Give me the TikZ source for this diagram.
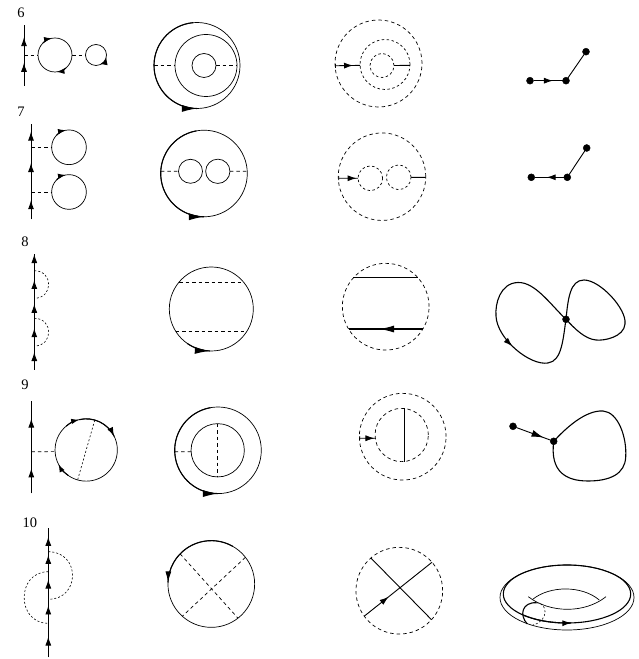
\documentclass[tikz,border=0pt]{standalone}
\usepackage{fontspec}
\setmainfont{Liberation Serif}
\usetikzlibrary{arrows.meta, decorations.markings}
\tikzset{
  ring/.style={circle, draw=black, line width=0.7pt, inner sep=0pt, outer sep=0pt, minimum size=#1},
  dashring/.style={ring=#1, dash pattern=on 3.5pt off 3pt},
  fineRing/.style={ring=#1, dash pattern=on 2.5pt off 2.5pt},
  dot/.style={circle, draw=black, fill=black, inner sep=0pt, outer sep=0pt, minimum size=7pt},
  lbl/.style={font=\fontsize{14.5}{16}\selectfont, inner sep=0pt},
  strand/.style={draw=black, line width=0.9pt},
  chord/.style={draw=black, line width=0.7pt, dash pattern=on 3.5pt off 3pt},
  fineDash/.style={draw=black, line width=0.6pt, dash pattern=on 2pt off 2pt},
  barline/.style={draw=black, line width=0.9pt},
  heavy/.style={draw=black, line width=1.1pt},
  tipat/.style={postaction={decorate, decoration={markings,
      mark=at position #1 with {\arrow{Latex[length=9pt,width=6pt]}}}}},
  tipsat/.style={tipat/.list={#1}},
  smallhead/.style={-{Latex[length=8pt,width=5.5pt]}},
  midhead/.style={postaction={decorate, decoration={markings,
      mark=at position .999 with {\arrow{Latex[length=11pt,width=6pt]}}}}},
  bighead/.style={postaction={decorate, decoration={markings,
      mark=at position #1 with {\arrow{Latex[length=15pt,width=7pt]}}}}},
  bighead/.default=.999,
  ticked/.style={{Bar[width=4pt,length=0.7pt]}-},
}
\begin{document}
\begin{tikzpicture}[x=1pt,y=1pt]
  \useasboundingbox (0,0) rectangle (639,659);
  \foreach \n/\x/\y in {6/21/646,7/21/547,8/25/417.3,9/25/274,10/30/136.3}{
    \node[lbl] (l\n) at (\x,\y) {\n};
  }
  % row 6
  \coordinate (t6) at (24,634);
  \coordinate (b6) at (24,573);
  \coordinate (j6) at (24,604);
  \draw[strand,tipsat={.38,.80}] (b6)--(t6);
  \node[ring=34pt] (a6) at (55,604) {};
  \node[ring=21pt] (s6) at (96,604) {};
  \draw[chord] (j6)--(a6.west);
  \draw[chord] (a6.east)--(s6.west);
  \draw[heavy,smallhead] (a6.135) arc[start angle=135,delta angle=-35,radius=17];
  \draw[heavy,smallhead] (a6.-50) arc[start angle=-50,delta angle=-35,radius=17];
  \draw[heavy,smallhead] (s6.-60) arc[start angle=-60,delta angle=50,radius=10.5];
  \node[ring=86pt] (o6) at (197,593.5) {};
  \node[ring=62pt] (m6) at (206,593.5) {};
  \node[ring=24pt] (i6) at (204,593.5) {};
  \draw[chord] (o6.west)--(m6.west);
  \draw[chord] (i6.east)--(m6.east);
  \draw[heavy,bighead] (o6.95) arc[start angle=95,delta angle=175,radius=43];
  \node[dashring=87pt] (p6) at (378.5,595.5) {};
  \node[fineRing=50pt] (q6) at (385,594.5) {};
  \node[fineRing=24pt] (r6) at (382,593.5) {};
  \draw[barline,ticked,tipat=.72] (p6.183)--(q6.182);
  \draw[barline] (r6.east)--(q6.358);
  \node[dot] (u6) at (530,578.3) {};
  \node[dot] (v6) at (566,578.3) {};
  \node[dot] (w6) at (586,607.3) {};
  \draw[barline,tipat=.67] (u6)--(v6);
  \draw[barline] (v6)--(w6);
  % row 7
  \coordinate (t7) at (31,535);
  \coordinate (b7) at (31,439.7);
  \coordinate (j7) at (31,511.7);
  \coordinate (k7) at (31,467);
  \draw[strand,tipsat={.20,.59,.92}] (b7)--(t7);
  \node[ring=34.7pt] (a7) at (69,511.7) {};
  \node[ring=34.7pt] (c7) at (69,467) {};
  \draw[chord] (j7)--(a7.west);
  \draw[chord] (k7)--(c7.west);
  \draw[heavy,smallhead] (a7.135) arc[start angle=135,delta angle=-35,radius=17.35];
  \draw[heavy,smallhead] (c7.135) arc[start angle=135,delta angle=-35,radius=17.35];
  \node[ring=86.6pt] (o7) at (204,485.5) {};
  \node[ring=24pt] (i7) at (190.5,487.7) {};
  \node[ring=24.3pt] (e7) at (217.8,487.7) {};
  \draw[chord] (o7.177)--(i7.west);
  \draw[chord] (e7.east)--(o7.3);
  \draw[heavy,bighead] (o7.100) arc[start angle=100,delta angle=170,radius=43.3];
  \node[dashring=87.5pt] (p7) at (382,482.3) {};
  \node[fineRing=24.7pt] (q7) at (370.3,480.7) {};
  \node[fineRing=24.7pt] (r7) at (398.7,481.7) {};
  \draw[barline,ticked,tipat=.93] (p7.182)--(q7.west);
  \draw[barline] (r7.east)--(p7.359);
  \node[dot] (u7) at (531.3,481.7) {};
  \node[dot] (v7) at (567.3,481.7) {};
  \node[dot] (w7) at (586.7,511) {};
  \draw[barline,tipat=.59] (v7)--(u7);
  \draw[barline] (v7)--(w7);
  % row 8
  \coordinate (t8) at (34.3,405);
  \coordinate (b8) at (34.3,289);
  \coordinate (j8) at (34.3,388.3);
  \coordinate (k8) at (34.3,360.7);
  \coordinate (f8) at (34.3,340.7);
  \coordinate (g8) at (34.3,313);
  \draw[strand,tipsat={.155,.36,.57,.776,.999}] (b8)--(t8);
  \draw[fineDash] (j8) to[out=0,in=0,looseness=1.78] (k8);
  \draw[fineDash] (f8) to[out=0,in=0,looseness=1.78] (g8);
  \node[ring=84pt] (o8) at (211.3,350) {};
  \draw[chord] (o8.140)--(o8.40);
  \draw[chord] (o8.212)--(o8.328);
  \draw[heavy,bighead] (o8.235) arc[start angle=235,delta angle=33,radius=42];
  \node[dashring=86.7pt] (p8) at (385.7,352.3) {};
  \draw[barline] (p8.138)--(p8.42);
  \draw[draw=black,line width=1.4pt,bighead=.59] (p8.329)--(p8.211);
  \node[dot] (v8) at (566,339.7) {};
  \draw[heavy,tipat=.34] (v8.center) .. controls (550,355) and (535,377) .. (518,376.5)
    .. controls (500,376) and (495,355) .. (496,343)
    .. controls (497,320) and (530,293) .. (548,296)
    .. controls (562,298) and (563,320) .. (v8.center)
    .. controls (568,360) and (570,379) .. (584,379)
    .. controls (600,379) and (627,350) .. (625,335)
    .. controls (624,322) and (604,318) .. (596,319)
    .. controls (585,320) and (575,330) .. (v8.center);
  % row 9
  \coordinate (t9) at (31.3,258);
  \coordinate (b9) at (31.3,165.7);
  \coordinate (j9) at (31.3,207.3);
  \draw[strand,tipsat={.27,.81}] (b9)--(t9);
  \node[ring=62.3pt] (a9) at (86.2,209) {};
  \draw[chord] (j9)--(a9.183);
  \draw[fineDash] (a9.74)--(a9.254);
  \draw[heavy,smallhead] (a9.130) arc[start angle=130,delta angle=-27,radius=31.15];
  \draw[heavy,tipat=.999] (a9.103) arc[start angle=103,delta angle=-77,radius=31.15];
  \draw[heavy,smallhead] (a9.235) arc[start angle=235,delta angle=-28,radius=31.15];
  \node[ring=86.6pt] (o9) at (218,208.7) {};
  \node[ring=53.3pt] (i9) at (217.7,208.7) {};
  \draw[chord] (o9.182)--(i9.183);
  \draw[chord] (i9.north)--(i9.south);
  \draw[heavy,bighead] (o9.100) arc[start angle=100,delta angle=170,radius=43.3];
  \node[dashring=86.7pt] (p9) at (402.7,222.3) {};
  \node[dashring=53.3pt] (q9) at (401.7,224) {};
  \draw[draw=black,line width=0.7pt,ticked,tipat=.95] (p9.182)--(q9.187);
  \draw[barline] (q9.84)--(q9.-84);
  \node[dot] (u9) at (513,232.7) {};
  \node[dot] (v9) at (553.7,217.7) {};
  \draw[barline,postaction={decorate,decoration={markings,mark=at position .8 with {\arrow{Latex[length=12pt,width=7pt]}}}}] (u9)--(v9);
  \draw[heavy] (v9.center) .. controls (565,230) and (585,249) .. (603,248)
    .. controls (618,247) and (627,222) .. (625.7,202)
    .. controls (625,185) and (610,178) .. (588,178)
    .. controls (565,178) and (550,188) .. (v9.center);
  % row 10
  \coordinate (t10) at (48.3,131.3);
  \coordinate (b10) at (48.3,1.7);
  \coordinate (j10) at (48.3,107.3);
  \coordinate (k10) at (48.3,59.7);
  \coordinate (f10) at (48.3,87.3);
  \coordinate (g10) at (48.3,35.7);
  \draw[strand,tipsat={.16,.40,.60,.79,.93}] (b10)--(t10);
  \draw[fineDash] (j10) to[out=0,in=0,looseness=1.74] (k10);
  \draw[fineDash] (f10) to[out=180,in=180,looseness=1.6] (g10);
  \node[ring=86.7pt] (o10) at (211.3,75) {};
  \draw[chord] (o10.136)--(o10.-52);
  \draw[chord] (o10.38)--(o10.228);
  \draw[heavy,midhead] (o10.60) arc[start angle=60,delta angle=118,radius=43.35];
  \node[dashring=86.7pt] (p10) at (399.3,68.3) {};
  \draw[barline] (p10.131)--(p10.-42);
  \draw[barline,tipat=.36] (p10.216)--(p10.41);
  % torus
  \draw[line width=0.7pt] (567,61.5) ellipse [x radius=67,y radius=32.5];
  \draw[heavy] (567,65) ellipse [x radius=63.7,y radius=29];
  \coordinate (h1) at (528.3,62.3);
  \coordinate (h2) at (606,62.3);
  \coordinate (h3) at (532.7,59.7);
  \coordinate (h4) at (599.3,59);
  \coordinate (m1) at (536.7,56.3);
  \coordinate (m2) at (527.3,35);
  \coordinate (m3) at (533,34);
  \draw[line width=0.7pt] (h1) .. controls (550,45.5) and (585,45.5) .. (h2);
  \draw[line width=0.7pt] (h3) .. controls (550,73.6) and (582,73.6) .. (h4);
  \draw[heavy] (m1) .. controls (522,57) and (519,44) .. (m2);
  \draw[fineDash] (m1) .. controls (548,56) and (549,38) .. (m3);
  \draw[heavy,tipat=.999] ([shift={(227:63.7 and 29)}]567,65) arc[start angle=227,end angle=274,x radius=63.7,y radius=29];
\end{tikzpicture}
\end{document}
